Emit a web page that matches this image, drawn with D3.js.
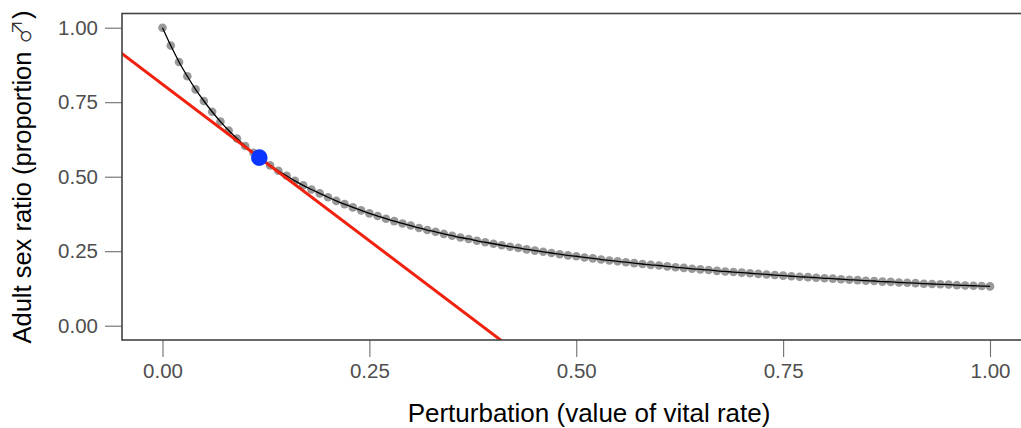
<!DOCTYPE html>
<html>
<head>
<meta charset="utf-8">
<script src="https://cdn.jsdelivr.net/npm/d3@7"></script>
<style>
  html, body { margin: 0; padding: 0; background: #fff; }
  svg { display: block; font-family: "Liberation Sans", Arial, "DejaVu Sans", sans-serif; }
</style>
</head>
<body>
<svg id="chart" width="1021" height="428"></svg>
<script>
// Perturbation values of the vital rate (step 0.01)
const perturbation = d3.range(0, 101).map(i => i / 100);
// Adult sex ratio (proportion male) at each perturbation value
const sexRatio = [
  1.000, 0.940, 0.885, 0.837, 0.793, 0.754, 0.718, 0.685, 0.655, 0.628,
  0.603, 0.580, 0.558, 0.538, 0.520, 0.503, 0.486, 0.471, 0.457, 0.444,
  0.431, 0.419, 0.408, 0.397, 0.387, 0.377, 0.368, 0.359, 0.351, 0.343,
  0.336, 0.328, 0.321, 0.315, 0.308, 0.302, 0.296, 0.291, 0.285, 0.280,
  0.275, 0.270, 0.265, 0.261, 0.256, 0.252, 0.248, 0.244, 0.240, 0.236,
  0.233, 0.229, 0.226, 0.222, 0.219, 0.216, 0.213, 0.210, 0.207, 0.204,
  0.202, 0.199, 0.196, 0.194, 0.191, 0.189, 0.187, 0.184, 0.182, 0.180,
  0.178, 0.176, 0.174, 0.172, 0.170, 0.168, 0.166, 0.164, 0.163, 0.161,
  0.159, 0.158, 0.156, 0.154, 0.153, 0.151, 0.150, 0.148, 0.147, 0.145,
  0.144, 0.143, 0.141, 0.140, 0.139, 0.138, 0.136, 0.135, 0.134, 0.133,
  0.132
];
// Observed vital-rate value and its adult sex ratio
const observedX = [0.117];
const observedY = [0.564];
// Tangent (sensitivity) line at the observed value: end points
const tangentX = [-0.06, 0.45];
const tangentY = [0.936, -0.135];
// Tick labels
const xTicks = [0, 0.25, 0.5, 0.75, 1];
const yTicks = [0, 0.25, 0.5, 0.75, 1];

const svg = d3.select("#chart");

const panel = { left: 122, top: 13.5, right: 1030, bottom: 340 };
const x = d3.scaleLinear().domain([0, 1]).range([162.5, 990]);
const y = d3.scaleLinear().domain([0, 1]).range([325.7, 27.7]);

svg.append("defs").append("clipPath").attr("id", "panel-clip")
  .append("rect")
  .attr("x", panel.left).attr("y", panel.top)
  .attr("width", panel.right - panel.left).attr("height", panel.bottom - panel.top);

// axes
const xAxis = d3.axisBottom(x).tickValues(xTicks).tickFormat(d3.format(".2f"))
  .tickSize(17).tickPadding(6).tickSizeOuter(0);
const yAxis = d3.axisLeft(y).tickValues(yTicks).tickFormat(d3.format(".2f"))
  .tickSize(17).tickPadding(7).tickSizeOuter(0);

const gx = svg.append("g").attr("transform", `translate(0,${panel.bottom})`).call(xAxis);
const gy = svg.append("g").attr("transform", `translate(${panel.left},0)`).call(yAxis);
[gx, gy].forEach(g => {
  g.select(".domain").remove();
  g.selectAll(".tick line").attr("stroke", "#6e6e6e").attr("stroke-width", 1.1);
  g.selectAll(".tick text").attr("fill", "#4f4f4f").style("font-size", "20.5px")
    .style("font-family", "Liberation Sans, Arial, sans-serif");
});

const plot = svg.append("g").attr("clip-path", "url(#panel-clip)");

const pts = perturbation.map((p, i) => [p, sexRatio[i]]);

// simulated points
plot.selectAll("circle.pt").data(pts).join("circle")
  .attr("class", "pt")
  .attr("cx", d => x(d[0])).attr("cy", d => y(d[1]))
  .attr("r", 4.3).attr("fill", "#999999");

// fitted curve
plot.append("path").datum(pts)
  .attr("fill", "none").attr("stroke", "#000").attr("stroke-width", 1.3)
  .attr("d", d3.line().x(d => x(d[0])).y(d => y(d[1])).curve(d3.curveMonotoneX));

// tangent line
plot.append("path").datum(tangentX.map((v, i) => [v, tangentY[i]]))
  .attr("fill", "none").attr("stroke", "#f0220f").attr("stroke-width", 3)
  .attr("d", d3.line().x(d => x(d[0])).y(d => y(d[1])));

// observed value
plot.selectAll("circle.obs").data(observedX.map((v, i) => [v, observedY[i]])).join("circle")
  .attr("class", "obs")
  .attr("cx", d => x(d[0])).attr("cy", d => y(d[1]))
  .attr("r", 8.3).attr("fill", "#0a36ff");

// panel border
svg.append("rect")
  .attr("x", panel.left).attr("y", panel.top)
  .attr("width", panel.right - panel.left).attr("height", panel.bottom - panel.top)
  .attr("fill", "none").attr("stroke", "#444").attr("stroke-width", 1.6);

// axis titles
svg.append("text")
  .attr("x", 589).attr("y", 422)
  .attr("text-anchor", "middle").attr("fill", "#000")
  .style("font-size", "26px")
  .text("Perturbation (value of vital rate)");

const yTitle = svg.append("text")
  .attr("transform", "translate(31,177) rotate(-90)")
  .attr("text-anchor", "middle").attr("fill", "#000")
  .style("font-size", "25.5px");
yTitle.append("tspan").text("Adult sex ratio (proportion ");
yTitle.append("tspan").style("font-family", "Noto Sans CJK JP").style("font-weight", "300")
  .attr("fill", "#333").text("\u2642");
yTitle.append("tspan").text(")");
</script>
</body>
</html>
